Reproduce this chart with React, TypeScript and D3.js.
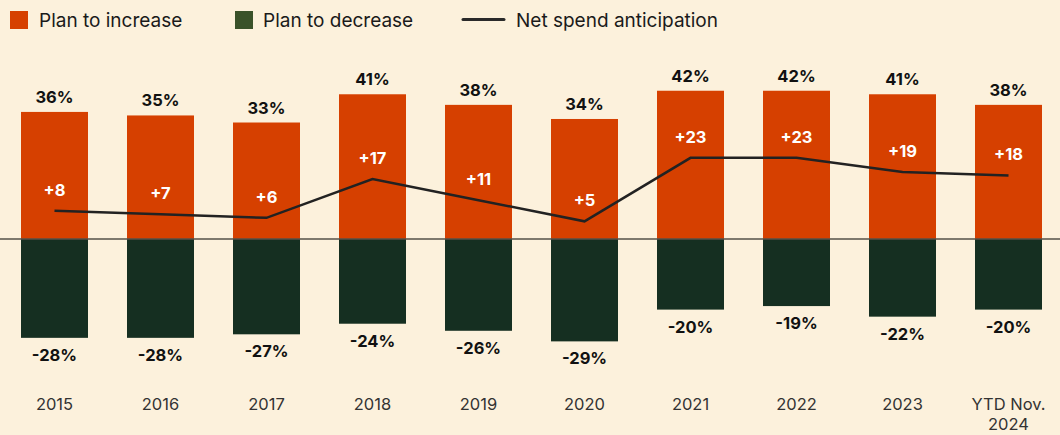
import React from "react";
import * as d3 from "d3";

const years = ["2015", "2016", "2017", "2018", "2019", "2020", "2021", "2022", "2023", "YTD Nov. 2024"];
const increase = [36, 35, 33, 41, 38, 34, 42, 42, 41, 38];
const decrease = [28, 28, 27, 24, 26, 29, 20, 19, 22, 20];
const net = [8, 7, 6, 17, 11, 5, 23, 23, 19, 18];

const W = 1060;
const H = 435;
const ORANGE = "#d64000";
const DARK = "#152f21";
const LEGEND_GREEN = "#3a5229";
const BG = "#fcf1dc";
const FONT = "Inter, 'Noto Sans', sans-serif";

export default function App() {
  const x = d3.scaleBand<string>().domain(years).range([21, 1042]).paddingInner(0.368).paddingOuter(0);
  const y = d3.scaleLinear().domain([-40, 50]).range([239 + 40 * 3.53, 239 - 50 * 3.53]);
  const y0 = y(0);
  const bw = x.bandwidth();
  const cx = (d: string) => (x(d) ?? 0) + bw / 2;

  const line = d3
    .line<number>()
    .x((_, i) => cx(years[i]))
    .y((d) => y(d));

  return (
    <div style={{ position: "fixed", left: 0, top: 0, width: W, height: H, background: BG }}>
      <svg width={W} height={H} style={{ display: "block", fontFamily: FONT }}>
        <rect width={W} height={H} fill={BG} />

        {/* legend */}
        <g fontSize={19} fill="#1a1a1a">
          <rect x={10} y={11} width={18} height={18} fill={ORANGE} />
          <text x={39} y={27}>Plan to increase</text>
          <rect x={235} y={11} width={18} height={18} fill={LEGEND_GREEN} />
          <text x={263} y={27}>Plan to decrease</text>
          <line x1={463} x2={504} y1={19.5} y2={19.5} stroke="#2a2a2a" strokeWidth={3} strokeLinecap="round" />
          <text x={516} y={27}>Net spend anticipation</text>
        </g>

        {/* bars */}
        {years.map((yr, i) => (
          <g key={yr}>
            <rect x={x(yr)} y={y(increase[i])} width={bw} height={y0 - y(increase[i])} fill={ORANGE} />
            <rect x={x(yr)} y={y0} width={bw} height={y(-decrease[i]) - y0} fill={DARK} />
          </g>
        ))}

        {/* zero line */}
        <line x1={0} x2={W} y1={y0} y2={y0} stroke="#555048" strokeWidth={1.5} />

        {/* net line */}
        <path d={line(net) || ""} fill="none" stroke="#222" strokeWidth={2.5} />

        {/* labels */}
        {years.map((yr, i) => (
          <g key={yr + "-lbl"} textAnchor="middle" fontWeight={700} fontSize={16.5}>
            <text x={cx(yr)} y={y(increase[i]) - 9} fill="#111">{increase[i]}%</text>
            <text x={cx(yr)} y={y(-decrease[i]) + 23} fill="#111">-{decrease[i]}%</text>
            <text x={cx(yr)} y={y(net[i]) - 15} fill="#fff">+{net[i]}</text>
          </g>
        ))}

        {/* x axis labels */}
        {years.map((yr) => {
          const parts = yr.startsWith("YTD") ? ["YTD Nov.", "2024"] : [yr];
          return (
            <text key={yr + "-x"} x={cx(yr)} y={410} textAnchor="middle" fontSize={16.5} fill="#333">
              {parts.map((p, j) => (
                <tspan key={j} x={cx(yr)} dy={j === 0 ? 0 : 20}>{p}</tspan>
              ))}
            </text>
          );
        })}
      </svg>
    </div>
  );
}
